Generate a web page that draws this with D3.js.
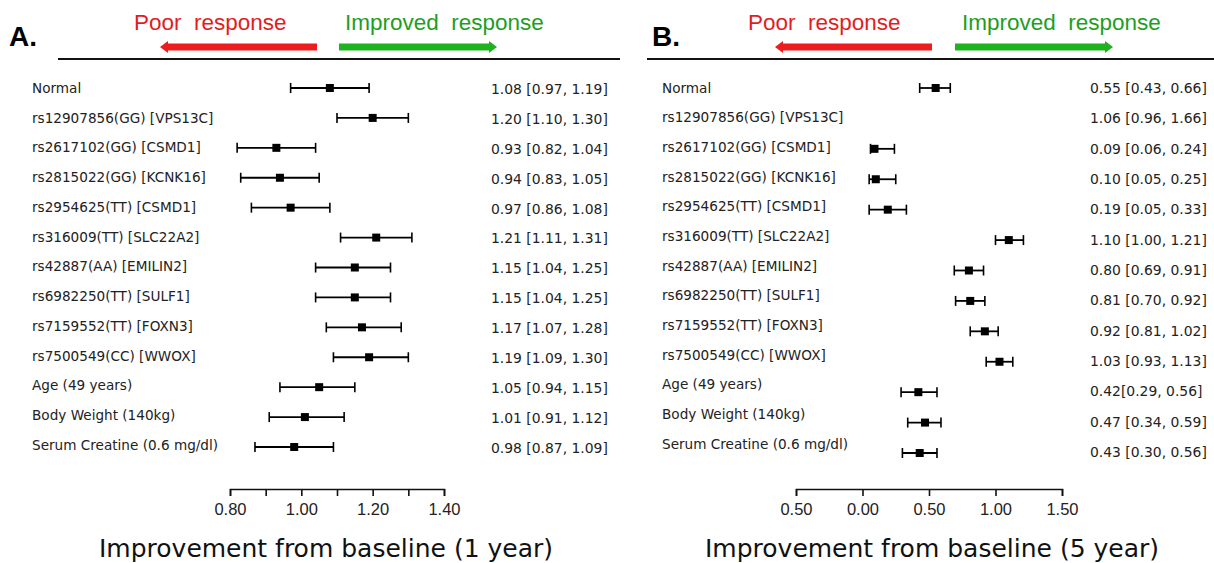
<!DOCTYPE html>
<html>
<head>
<meta charset="utf-8">
<script src="https://cdn.jsdelivr.net/npm/d3@7"></script>
<style>
  body { margin: 0; background: #fff; }
  svg { display: block; }
  .row-label, .row-value { font-family: "DejaVu Sans", sans-serif; font-size: 13.6px; fill: #222; }
  .row-value { font-size: 13.9px; }
  .tick text { font-family: "Liberation Sans", Arial, sans-serif; font-size: 16.5px; fill: #222; }
  .axis-title { font-family: "DejaVu Sans", sans-serif; font-size: 25px; fill: #111; }
  .panel-tag { font-family: "Liberation Sans", Arial, sans-serif; font-size: 28px; font-weight: bold; }
  .dir-text { font-family: "Liberation Sans", Arial, sans-serif; font-size: 22.5px; white-space: pre; }
</style>
</head>
<body>
<div id="chart"></div>
<script>
// row labels (same for both panels)
const rowLabels = [
  "Normal", "rs12907856(GG) [VPS13C]", "rs2617102(GG) [CSMD1]", "rs2815022(GG) [KCNK16]",
  "rs2954625(TT) [CSMD1]", "rs316009(TT) [SLC22A2]", "rs42887(AA) [EMILIN2]",
  "rs6982250(TT) [SULF1]", "rs7159552(TT) [FOXN3]", "rs7500549(CC) [WWOX]",
  "Age (49 years)", "Body Weight (140kg)", "Serum Creatine (0.6 mg/dl)"
];

// panel A: 1 year
const meanA = [1.08, 1.20, 0.93, 0.94, 0.97, 1.21, 1.15, 1.15, 1.17, 1.19, 1.05, 1.01, 0.98];
const lowA  = [0.97, 1.10, 0.82, 0.83, 0.86, 1.11, 1.04, 1.04, 1.07, 1.09, 0.94, 0.91, 0.87];
const highA = [1.19, 1.30, 1.04, 1.05, 1.08, 1.31, 1.25, 1.25, 1.28, 1.30, 1.15, 1.12, 1.09];
const valueTextA = [
  "1.08 [0.97, 1.19]", "1.20 [1.10, 1.30]", "0.93 [0.82, 1.04]", "0.94 [0.83, 1.05]",
  "0.97 [0.86, 1.08]", "1.21 [1.11, 1.31]", "1.15 [1.04, 1.25]", "1.15 [1.04, 1.25]",
  "1.17 [1.07, 1.28]", "1.19 [1.09, 1.30]", "1.05 [0.94, 1.15]", "1.01 [0.91, 1.12]",
  "0.98 [0.87, 1.09]"
];
const ticksA = [0.8, 0.9, 1.0, 1.1, 1.2, 1.3, 1.4];
const tickLabelsA = ["0.80", "", "1.00", "", "1.20", "", "1.40"];

// panel B: 5 year (row 2 has no bar in the figure)
const meanB = [0.55, 1.06, 0.09, 0.10, 0.19, 1.10, 0.80, 0.81, 0.92, 1.03, 0.42, 0.47, 0.43];
const lowB  = [0.43, 0.96, 0.06, 0.05, 0.05, 1.00, 0.69, 0.70, 0.81, 0.93, 0.29, 0.34, 0.30];
const highB = [0.66, 1.66, 0.24, 0.25, 0.33, 1.21, 0.91, 0.92, 1.02, 1.13, 0.56, 0.59, 0.56];
const drawnB = [true, false, true, true, true, true, true, true, true, true, true, true, true];
const valueTextB = [
  "0.55 [0.43, 0.66]", "1.06 [0.96, 1.66]", "0.09 [0.06, 0.24]", "0.10 [0.05, 0.25]",
  "0.19 [0.05, 0.33]", "1.10 [1.00, 1.21]", "0.80 [0.69, 0.91]", "0.81 [0.70, 0.92]",
  "0.92 [0.81, 1.02]", "1.03 [0.93, 1.13]", "0.42[0.29, 0.56]", "0.47 [0.34, 0.59]",
  "0.43 [0.30, 0.56]"
];
const ticksB = [-0.5, 0, 0.5, 1.0, 1.5];
const tickLabelsB = ["0.50", "0.00", "0.50", "1.00", "1.50"];

const svg = d3.select("#chart").append("svg")
  .attr("width", 1214)
  .attr("height", 563);

const RED = "#ee1c1c", GREEN = "#1fb21f";

function drawArrow(g, x1, x2, y, color, headLeft) {
  // shaft + triangular head
  const h = 7, hw = 6, hl = 8;
  const tip = headLeft ? x1 : x2;
  const dir = headLeft ? 1 : -1;
  g.append("rect")
    .attr("x", headLeft ? x1 + hl : x1)
    .attr("y", y - h / 2)
    .attr("width", x2 - x1 - hl)
    .attr("height", h)
    .attr("fill", color);
  g.append("path")
    .attr("d", `M${tip},${y} L${tip + dir * hl},${y - hw} L${tip + dir * hl},${y + hw} Z`)
    .attr("fill", color);
}

function drawPanel(cfg) {
  const g = svg.append("g");

  const x = d3.scaleLinear().domain(cfg.domain).range(cfg.xRange);
  const idx = d3.range(rowLabels.length);
  const yMark = d3.scalePoint().domain(idx).range(cfg.markRange);
  const yLab = d3.scalePoint().domain(idx).range(cfg.labelRange);
  const yVal = d3.scalePoint().domain(idx).range(cfg.valueRange);

  // header
  g.append("text").attr("class", "panel-tag")
    .attr("x", cfg.tagX).attr("y", 46).text(cfg.tag);
  g.append("text").attr("class", "dir-text").attr("fill", "#e21d1d")
    .attr("x", cfg.poorX).attr("y", 30).text("Poor  response");
  g.append("text").attr("class", "dir-text").attr("fill", "#1e9e1e")
    .attr("x", cfg.goodX).attr("y", 30).text("Improved  response");
  drawArrow(g, cfg.redArrow[0], cfg.redArrow[1], 47, RED, true);
  drawArrow(g, cfg.greenArrow[0], cfg.greenArrow[1], 47, GREEN, false);
  g.append("line")
    .attr("x1", cfg.rule[0]).attr("x2", cfg.rule[1])
    .attr("y1", 59).attr("y2", 59)
    .attr("stroke", "#111").attr("stroke-width", 2);

  // row labels and values
  g.selectAll(".row-label").data(idx).enter().append("text")
    .attr("class", "row-label")
    .attr("x", cfg.labelX)
    .attr("y", d => yLab(d))
    .attr("dy", "0.35em")
    .text(d => rowLabels[d]);

  g.selectAll(".row-value").data(idx).enter().append("text")
    .attr("class", "row-value")
    .attr("x", cfg.valueX)
    .attr("y", d => yVal(d))
    .attr("dy", "0.35em")
    .text(d => cfg.valueText[d]);

  // interval bars
  const shown = idx.filter(d => cfg.drawn[d]);
  const bars = g.selectAll(".ci").data(shown).enter().append("g").attr("class", "ci");
  bars.append("line")
    .attr("x1", d => x(cfg.low[d])).attr("x2", d => x(cfg.high[d]))
    .attr("y1", d => yMark(d)).attr("y2", d => yMark(d))
    .attr("stroke", "#000").attr("stroke-width", 1.8);
  bars.append("line")
    .attr("x1", d => x(cfg.low[d])).attr("x2", d => x(cfg.low[d]))
    .attr("y1", d => yMark(d) - 5).attr("y2", d => yMark(d) + 5)
    .attr("stroke", "#000").attr("stroke-width", 1.6);
  bars.append("line")
    .attr("x1", d => x(cfg.high[d])).attr("x2", d => x(cfg.high[d]))
    .attr("y1", d => yMark(d) - 5).attr("y2", d => yMark(d) + 5)
    .attr("stroke", "#000").attr("stroke-width", 1.6);
  bars.append("rect")
    .attr("x", d => x(cfg.mean[d]) - 4).attr("y", d => yMark(d) - 4)
    .attr("width", 8).attr("height", 8)
    .attr("fill", "#000");

  // x axis
  const axis = d3.axisBottom(x)
    .tickValues(cfg.ticks)
    .tickFormat((d, i) => cfg.tickLabels[i])
    .tickSize(7)
    .tickSizeOuter(7)
    .tickPadding(7);
  const ag = g.append("g")
    .attr("transform", `translate(0,${cfg.axisY})`)
    .call(axis);
  ag.selectAll("path, line").attr("stroke", "#111").attr("stroke-width", 1.6);

  g.append("text").attr("class", "axis-title")
    .attr("x", d3.mean(cfg.xRange) + cfg.titleShift)
    .attr("y", 557)
    .attr("text-anchor", "middle")
    .text(cfg.title);
}

drawPanel({
  tag: "A.", tagX: 9, poorX: 134, goodX: 345,
  redArrow: [160, 317], greenArrow: [339, 497], rule: [58, 620],
  domain: [0.8, 1.4], xRange: [230, 444],
  markRange: [88, 447], labelRange: [88, 445], valueRange: [89, 448],
  labelX: 32, valueX: 491,
  mean: meanA, low: lowA, high: highA, drawn: meanA.map(() => true),
  valueText: valueTextA, ticks: ticksA, tickLabels: tickLabelsA,
  axisY: 489, title: "Improvement from baseline (1 year)", titleShift: -11
});

drawPanel({
  tag: "B.", tagX: 652, poorX: 748, goodX: 962,
  redArrow: [775, 932], greenArrow: [955, 1113], rule: [647, 1214],
  domain: [-0.5, 1.5], xRange: [796, 1062],
  markRange: [88, 453], labelRange: [88, 444], valueRange: [88, 452],
  labelX: 662, valueX: 1090,
  mean: meanB, low: lowB, high: highB, drawn: drawnB,
  valueText: valueTextB, ticks: ticksB, tickLabels: tickLabelsB,
  axisY: 489, title: "Improvement from baseline (5 year)", titleShift: 3
});
</script>
</body>
</html>
